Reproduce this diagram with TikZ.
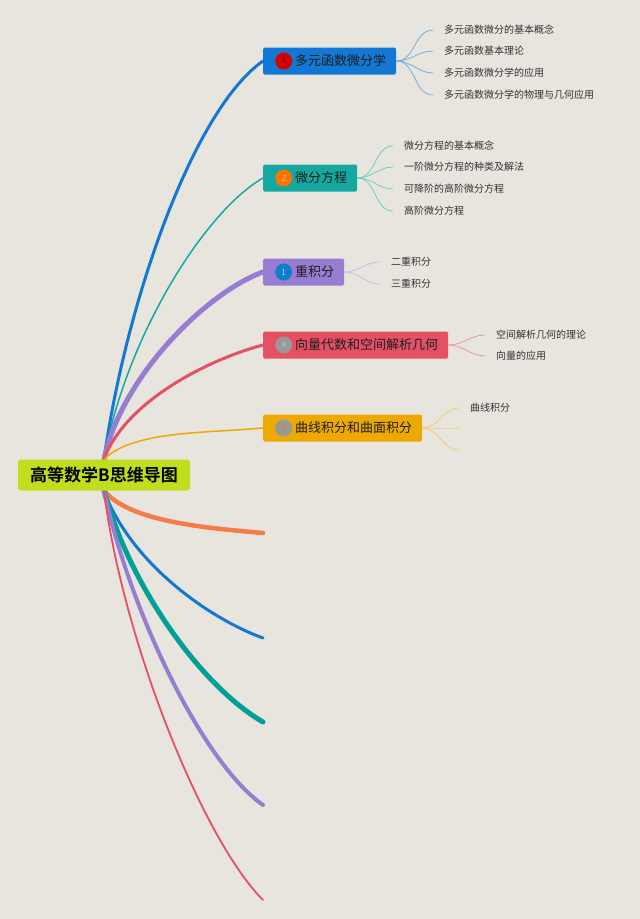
\documentclass[tikz,border=0pt]{standalone}
\usepackage{fontspec}
\newfontfamily\cjk[BoldFont={Noto Sans CJK SC Bold}]{Noto Sans CJK SC}
\usepackage{tikz}
\usetikzlibrary{positioning, backgrounds}

\definecolor{paper}{RGB}{232,229,222}
\definecolor{rootgreen}{RGB}{192,222,30}
\definecolor{topicblue}{RGB}{18,120,212}
\definecolor{topicteal}{RGB}{20,168,160}
\definecolor{topicpurple}{RGB}{150,125,210}
\definecolor{topicred}{RGB}{228,80,100}
\definecolor{topicamber}{RGB}{236,170,0}
\definecolor{tailorange}{RGB}{242,125,72}
\definecolor{tailteal}{RGB}{0,160,150}
\definecolor{textdark}{RGB}{30,30,30}
\definecolor{leafgray}{RGB}{50,50,50}

\begin{document}
\begin{tikzpicture}[x=1pt, y=1pt,
  root/.style={rectangle, rounded corners=3pt, fill=rootgreen, minimum width=172pt, minimum height=31pt, font=\cjk\bfseries\fontsize{17}{17}\selectfont, text=black},
  topic/.style={rectangle, rounded corners=1.5pt, anchor=west, minimum height=27pt, inner xsep=10pt, font=\cjk\fontsize{13}{13}\selectfont, text=textdark, execute at begin node={\hspace*{22pt}}},
  badge/.style={circle, inner sep=0pt, minimum size=17pt, font=\sffamily\fontsize{9}{9}\selectfont},
  leaf/.style={anchor=west, inner xsep=11pt, inner ysep=2pt, font=\cjk\fontsize{10}{10}\selectfont, text=leafgray},
  branch/.style={line cap=round},
  twig/.style={line width=0.8pt}
]
% Root
\node[root] (root) at (104,-475) {高等数学B思维导图};

% Topic 1: 多元函数微分学
\node[topic, fill=topicblue] (t1) at (263,-61) {多元函数微分学};
\node[badge, fill=red!85!black, text=red!40!black, right=12pt of t1.west] (b1) {3};
\node[leaf] (l11) at (433,-30) {多元函数微分的基本概念};
\node[leaf] (l12) at (433,-51) {多元函数基本理论};
\node[leaf] (l13) at (433,-73) {多元函数微分学的应用};
\node[leaf] (l14) at (433,-95) {多元函数微分学的物理与几何应用};

% Topic 2: 微分方程
\node[topic, fill=topicteal] (t2) at (263,-178) {微分方程};
\node[badge, fill=orange!90!red, text=orange!50!white, right=12pt of t2.west] (b2) {2};
\node[leaf] (l21) at (393,-146) {微分方程的基本概念};
\node[leaf] (l22) at (393,-167) {一阶微分方程的种类及解法};
\node[leaf] (l23) at (393,-189) {可降阶的高阶微分方程};
\node[leaf] (l24) at (393,-211) {高阶微分方程};

% Topic 3: 重积分
\node[topic, fill=topicpurple] (t3) at (263,-272) {重积分};
\node[badge, fill=cyan!60!blue, text=cyan!40!white, right=12pt of t3.west] (b3) {1};
\node[leaf] (l31) at (380,-262) {二重积分};
\node[leaf] (l32) at (380,-284) {三重积分};

% Topic 4: 向量代数和空间解析几何
\node[topic, fill=topicred] (t4) at (263,-345) {向量代数和空间解析几何};
\node[badge, fill=gray!80, text=gray!50, right=12pt of t4.west] (b4) {4};
\node[leaf] (l41) at (485,-335) {空间解析几何的理论};
\node[leaf] (l42) at (485,-356) {向量的应用};

% Topic 5: 曲线积分和曲面积分
\node[topic, fill=topicamber] (t5) at (263,-428) {曲线积分和曲面积分};
\node[badge, fill=gray!80, text=orange!70!gray, right=12pt of t5.west] (b5) {5};
\node[leaf] (l51) at (459,-408) {曲线积分};
\coordinate (l52) at (459,-428);
\coordinate (l53) at (459,-450);

% Free ends below
\coordinate (e1) at (263,-533);
\coordinate (e2) at (263,-638);
\coordinate (e3) at (263,-722);
\coordinate (e4) at (263,-805);
\coordinate (e5) at (263,-900);

% Paper and main connectors
\begin{scope}[on background layer]
  \fill[paper] (0,0) rectangle (640,-919);

  \draw[branch, topicblue, line width=3pt] (root.north) to[out=82, in=215, out distance=160pt, in distance=85pt] (t1.west);
  \draw[branch, topicteal, line width=1.5pt] (root.north) to[out=80, in=210, out distance=120pt, in distance=70pt] (t2.west);
  \draw[branch, topicpurple, line width=5pt] (root.north) to[out=78, in=200, out distance=85pt, in distance=60pt] (t3.west);
  \draw[branch, topicred, line width=3pt] (root.north) to[out=70, in=195, out distance=60pt, in distance=60pt] (t4.west);
  \draw[branch, topicamber, line width=1.5pt] (root.north) to[out=45, in=185, out distance=40pt, in distance=60pt] (t5.west);

  \draw[branch, tailorange, line width=4.5pt] (root.south) to[out=-50, in=175, out distance=40pt, in distance=60pt] (e1);
  \draw[branch, topicblue, line width=3pt] (root.south) to[out=-70, in=160, out distance=75pt, in distance=60pt] (e2);
  \draw[branch, tailteal, line width=5pt] (root.south) to[out=-75, in=150, out distance=100pt, in distance=70pt] (e3);
  \draw[branch, topicpurple, line width=4pt] (root.south) to[out=-78, in=145, out distance=120pt, in distance=75pt] (e4);
  \draw[branch, topicred, line width=1.8pt] (root.south) to[out=-83, in=135, out distance=150pt, in distance=85pt] (e5);
\end{scope}

% Leaf connectors
\foreach \l in {l11,l12,l13,l14}
  \draw[twig, topicblue!60] (t1.east) to[out=0, in=180] (\l.west);
\foreach \l in {l21,l22,l23,l24}
  \draw[twig, topicteal!60] (t2.east) to[out=0, in=180] (\l.west);
\foreach \l in {l31,l32}
  \draw[twig, topicpurple!50] (t3.east) to[out=0, in=180] (\l.west);
\foreach \l in {l41,l42}
  \draw[twig, topicred!60] (t4.east) to[out=0, in=180] (\l.west);
\draw[twig, topicamber!60] (t5.east) to[out=0, in=180] (l51.west);
\draw[twig, topicamber!60] (t5.east) to[out=0, in=180] (l52);
\draw[twig, topicamber!60] (t5.east) to[out=0, in=180] (l53);
\end{tikzpicture}
\end{document}
